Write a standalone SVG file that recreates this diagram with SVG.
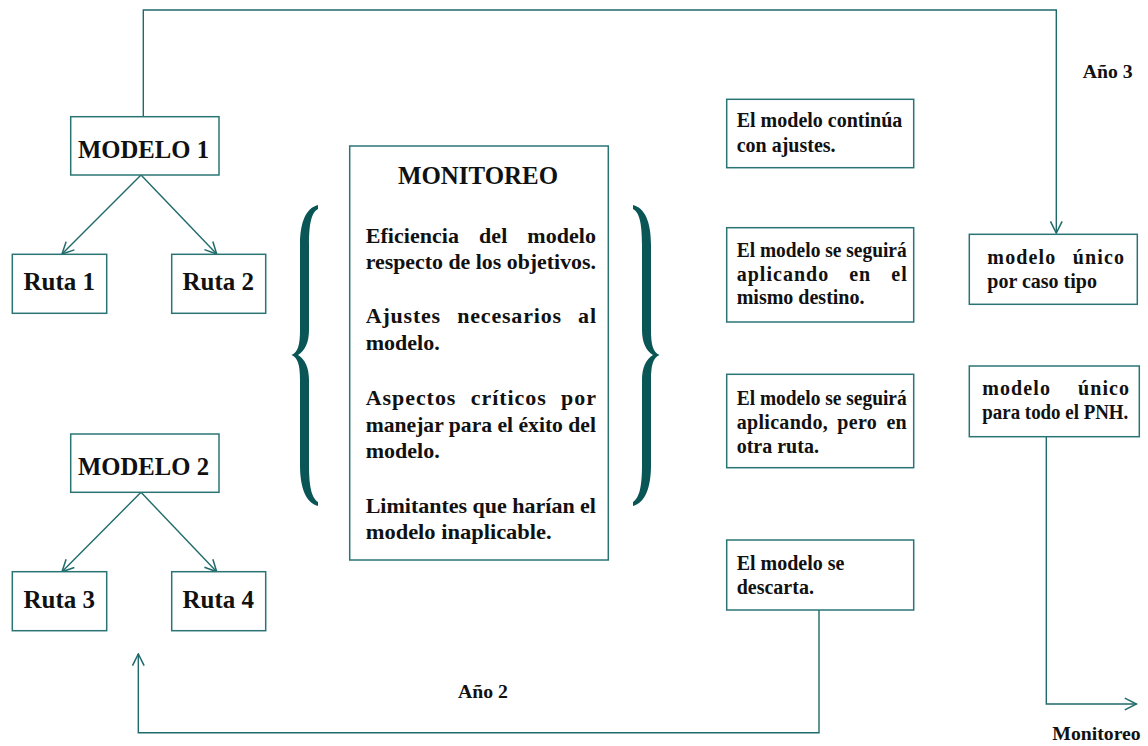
<svg xmlns="http://www.w3.org/2000/svg" width="1148" height="746" viewBox="0 0 1148 746">
<style>
.box{fill:#fff;stroke:#2b7474;stroke-width:1.5}
.ln{fill:none;stroke:#1f6a6a;stroke-width:1.4}
.t{font-family:"Liberation Serif","Times New Roman",serif;font-weight:bold;fill:#111}
.big{font-size:25px}
.body{font-size:22px}
.sm{font-size:20px}
.lbl{font-size:19.5px}
.brace{fill:#0a5555}
</style>
<defs>
<marker id="arr" markerUnits="userSpaceOnUse" markerWidth="14" markerHeight="14" viewBox="0 0 12 12" refX="11" refY="6" orient="auto">
<path d="M1,1 L11,6 L1,11" fill="none" stroke="#1f6a6a" stroke-width="1.3"/>
</marker>
</defs>

<g id="connectors">
<polyline class="ln" points="143.3,116.7 143.3,10 1056.3,10 1056.3,233" marker-end="url(#arr)"/>
<line class="ln" x1="141" y1="175" x2="62" y2="254" marker-end="url(#arr)"/>
<line class="ln" x1="141" y1="175" x2="216.7" y2="254" marker-end="url(#arr)"/>
<line class="ln" x1="141" y1="492.3" x2="62" y2="571.7" marker-end="url(#arr)"/>
<line class="ln" x1="141" y1="492.3" x2="216.7" y2="571.7" marker-end="url(#arr)"/>
<polyline class="ln" points="819,610 819,732.7 138.3,732.7 138.3,654" marker-end="url(#arr)"/>
<polyline class="ln" points="1046.3,436.7 1046.3,704 1136.5,704" marker-end="url(#arr)"/>
</g>

<g id="modelo1">
<rect class="box" x="70.7" y="116.7" width="148.3" height="58.3"/>
<text class="t big" x="143.5" y="158.3" text-anchor="middle" textLength="131" lengthAdjust="spacingAndGlyphs">MODELO 1</text>
</g>
<g id="ruta1">
<rect class="box" x="12.3" y="254.3" width="94.4" height="59"/>
<text class="t big" x="59.2" y="290" text-anchor="middle">Ruta 1</text>
</g>
<g id="ruta2">
<rect class="box" x="171.7" y="254.3" width="94" height="59"/>
<text class="t big" x="218.3" y="290" text-anchor="middle">Ruta 2</text>
</g>
<g id="modelo2">
<rect class="box" x="70.7" y="434" width="148.3" height="58.3"/>
<text class="t big" x="143.5" y="475" text-anchor="middle" textLength="131" lengthAdjust="spacingAndGlyphs">MODELO 2</text>
</g>
<g id="ruta3">
<rect class="box" x="12.3" y="571.7" width="94.4" height="59"/>
<text class="t big" x="59.2" y="608.3" text-anchor="middle">Ruta 3</text>
</g>
<g id="ruta4">
<rect class="box" x="171.7" y="571.7" width="94" height="59"/>
<text class="t big" x="218.3" y="608.3" text-anchor="middle">Ruta 4</text>
</g>

<g id="llave-izq">
<path class="brace" d="M318,205 C306,208 300,222 300,245 L300,330 C300,345 298,352 291.5,355 C298,358 300,365 300,380 L300,465 C300,488 306,503 318,506 L318,502 C312,498 309,488 309,465 L309,380 C309,368 305,359 298,355 C305,351 309,342 309,330 L309,245 C309,222 312,212 318,209 Z"/>
</g>
<g id="llave-der">
<path class="brace" transform="translate(951,0) scale(-1,1)" d="M318,205 C306,208 300,222 300,245 L300,330 C300,345 298,352 291.5,355 C298,358 300,365 300,380 L300,465 C300,488 306,503 318,506 L318,502 C312,498 309,488 309,465 L309,380 C309,368 305,359 298,355 C305,351 309,342 309,330 L309,245 C309,222 312,212 318,209 Z"/>
</g>

<g id="monitoreo">
<rect class="box" x="349.7" y="146" width="258.6" height="414"/>
<text class="t big" x="478" y="184.3" text-anchor="middle" textLength="160" lengthAdjust="spacingAndGlyphs">MONITOREO</text>
<text class="t body" x="365.7" y="243.3" textLength="230.3" lengthAdjust="spacing" style="word-spacing:14.5px">Eficiencia del modelo</text>
<text class="t body" x="365.7" y="269.3" textLength="230.3" lengthAdjust="spacingAndGlyphs">respecto de los objetivos.</text>
<text class="t body" x="365.7" y="323.3" textLength="230.3" lengthAdjust="spacing" style="word-spacing:10px">Ajustes necesarios al</text>
<text class="t body" x="365.7" y="350">modelo.</text>
<text class="t body" x="365.7" y="405" textLength="230.3" lengthAdjust="spacing" style="word-spacing:8px">Aspectos críticos por</text>
<text class="t body" x="365.7" y="431.7" textLength="230.3" lengthAdjust="spacingAndGlyphs">manejar para el éxito del</text>
<text class="t body" x="365.7" y="458.3">modelo.</text>
<text class="t body" x="365.7" y="512.7" textLength="230.3" lengthAdjust="spacingAndGlyphs">Limitantes que harían el</text>
<text class="t body" x="365.7" y="539" textLength="186" lengthAdjust="spacingAndGlyphs">modelo inaplicable.</text>
</g>

<g id="continua">
<rect class="box" x="726.7" y="99.3" width="187" height="68.4"/>
<text class="t sm" x="736.7" y="127.3" textLength="165.6" lengthAdjust="spacingAndGlyphs">El modelo continúa</text>
<text class="t sm" x="736.7" y="151.7">con ajustes.</text>
</g>
<g id="mismo-destino">
<rect class="box" x="726.7" y="227.7" width="187" height="94.3"/>
<text class="t sm" x="736.7" y="256.7" textLength="170" lengthAdjust="spacingAndGlyphs">El modelo se seguirá</text>
<text class="t sm" x="736.7" y="281" textLength="170" lengthAdjust="spacing" style="word-spacing:14px">aplicando en el</text>
<text class="t sm" x="736.7" y="304">mismo destino.</text>
</g>
<g id="otra-ruta">
<rect class="box" x="726.7" y="374.3" width="187" height="93.4"/>
<text class="t sm" x="736.7" y="405" textLength="170" lengthAdjust="spacingAndGlyphs">El modelo se seguirá</text>
<text class="t sm" x="736.7" y="429" textLength="170" lengthAdjust="spacing" style="word-spacing:4px">aplicando, pero en</text>
<text class="t sm" x="736.7" y="452.7">otra ruta.</text>
</g>
<g id="descarta">
<rect class="box" x="726.7" y="540" width="187" height="70"/>
<text class="t sm" x="736.7" y="570">El modelo se</text>
<text class="t sm" x="736.7" y="594">descarta.</text>
</g>
<g id="caso-tipo">
<rect class="box" x="969.3" y="234.3" width="168" height="70"/>
<text class="t sm" x="987.3" y="264" textLength="136.7" lengthAdjust="spacing" style="word-spacing:10px">modelo único</text>
<text class="t sm" x="987.3" y="287.7">por caso tipo</text>
</g>
<g id="todo-pnh">
<rect class="box" x="969.3" y="366" width="170" height="70.7"/>
<text class="t sm" x="982.3" y="395" textLength="146.7" lengthAdjust="spacing" style="word-spacing:21px">modelo único</text>
<text class="t sm" x="982.3" y="419.3" textLength="146" lengthAdjust="spacingAndGlyphs">para todo el PNH.</text>
</g>

<g id="etiquetas">
<text class="t lbl" x="1082.7" y="78.3" textLength="50" lengthAdjust="spacingAndGlyphs">Año 3</text>
<text class="t lbl" x="458" y="698" textLength="50" lengthAdjust="spacingAndGlyphs">Año 2</text>
<text class="t lbl" x="1052.3" y="740" textLength="88.4" lengthAdjust="spacingAndGlyphs">Monitoreo</text>
</g>
</svg>
